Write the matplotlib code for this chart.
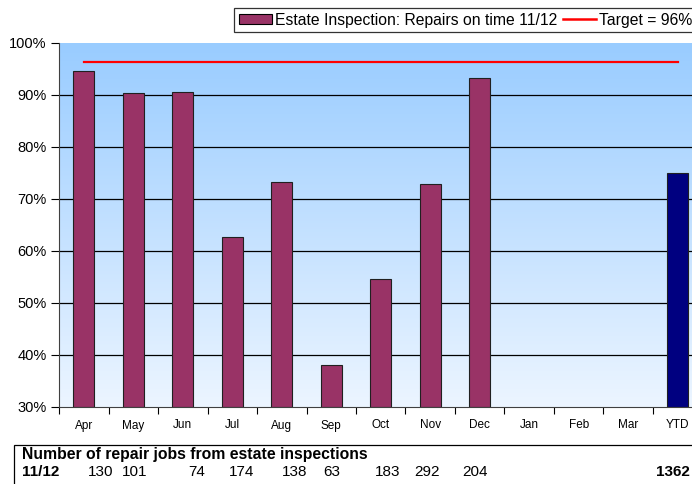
import numpy as np
import matplotlib
matplotlib.use("Agg")
from matplotlib import pyplot as plt
from matplotlib.patches import Patch, Rectangle
from matplotlib.lines import Line2D

plt.rcParams['font.family'] = ['Liberation Sans', 'DejaVu Sans']

months = ['Apr', 'May', 'Jun', 'Jul', 'Aug', 'Sep', 'Oct', 'Nov', 'Dec', 'Jan', 'Feb', 'Mar', 'YTD']
on_time = [94.6, 90.4, 90.6, 62.7, 73.3, 38.1, 54.6, 72.9, 93.3, None, None, None, 75.0]
target = 96.3
job_counts = ['130', '101', '74', '174', '138', '63', '183', '292', '204']
ytd_jobs = '1362'

W, H = 692, 484
fig = plt.figure(figsize=(W / 100, H / 100), dpi=100)
ax = fig.add_axes([59 / W, 1 - 407 / H, 643.5 / W, 364 / H])

x = np.arange(len(months))
ax.set_xlim(-0.5, len(months) - 0.5)
ax.set_ylim(30, 100)

# gradient background
grad = np.linspace(0, 1, 256).reshape(-1, 1)
top = np.array([153, 204, 255]) / 255
bottom = np.array([236, 245, 255]) / 255
img = bottom + (top - bottom) * grad[:, :, None]
ax.imshow(img, extent=[-0.5, len(months) - 0.5, 30, 100], origin='lower',
          aspect='auto', zorder=0)

for v in range(40, 100, 10):
    ax.axhline(v, color='black', lw=0.9, zorder=1)

for i, v in enumerate(on_time):
    if v is None:
        continue
    color = '#000080' if months[i] == 'YTD' else '#993366'
    ax.bar(x[i], v - 30, bottom=30, width=0.43, color=color,
           edgecolor='#202020', lw=0.8, zorder=2)

ax.plot([x[0], x[-1]], [target, target], color='#ff0000', lw=1.6, zorder=3)

ax.set_yticks(range(30, 101, 10))
ax.set_yticklabels([f'{v}%' for v in range(30, 101, 10)], fontsize=10.5)
ax.set_xticks(x)
ax.set_xticklabels(months, fontsize=8.5)
ax.set_xticks(np.arange(-0.5, len(months)), minor=True)
ax.tick_params(axis='x', which='major', length=0, pad=9)
ax.tick_params(axis='x', which='minor', length=5, direction='out', width=0.8)
ax.tick_params(axis='y', length=6, direction='out', width=0.8, pad=3)
for side in ['top', 'right']:
    ax.spines[side].set_visible(False)
ax.spines['left'].set_color('#404040')
ax.spines['bottom'].set_color('#404040')
ax.spines['bottom'].set_zorder(4)

handles = [Patch(facecolor='#993366', edgecolor='black', lw=0.8),
           Line2D([], [], color='#ff0000', lw=1.8)]
leg = fig.legend(handles, ['Estate Inspection: Repairs on time 11/12', 'Target = 96%'],
                 loc='upper left', bbox_to_anchor=(234 / W, 1 - 8 / H), ncol=2,
                 fontsize=11.3, frameon=True, fancybox=False, edgecolor='black',
                 handlelength=2.1, handleheight=0.65, handletextpad=0.2,
                 columnspacing=0.35, borderpad=0.3, borderaxespad=0)
leg.get_frame().set_linewidth(0.9)

# table of repair job counts
fig.patches.append(Rectangle((14 / W, -0.1), 1, 1 - 445 / H + 0.1,
                             transform=fig.transFigure, fill=False,
                             edgecolor='black', lw=0.9))
fig.text(22 / W, 1 - 455 / H, 'Number of repair jobs from estate inspections',
         fontsize=11.3, fontweight='bold', va='center')
fig.text(22 / W, 1 - 472 / H, '11/12', fontsize=11, fontweight='bold', va='center')
col_right = [113, 147, 205, 254, 307, 340, 400, 440, 488]
for cx, n in zip(col_right, job_counts):
    fig.text(cx / W, 1 - 472 / H, n, fontsize=11, ha='right', va='center')
fig.text(690 / W, 1 - 472 / H, ytd_jobs, fontsize=11, fontweight='bold',
         ha='right', va='center')

fig.savefig('out.png', dpi=100)
